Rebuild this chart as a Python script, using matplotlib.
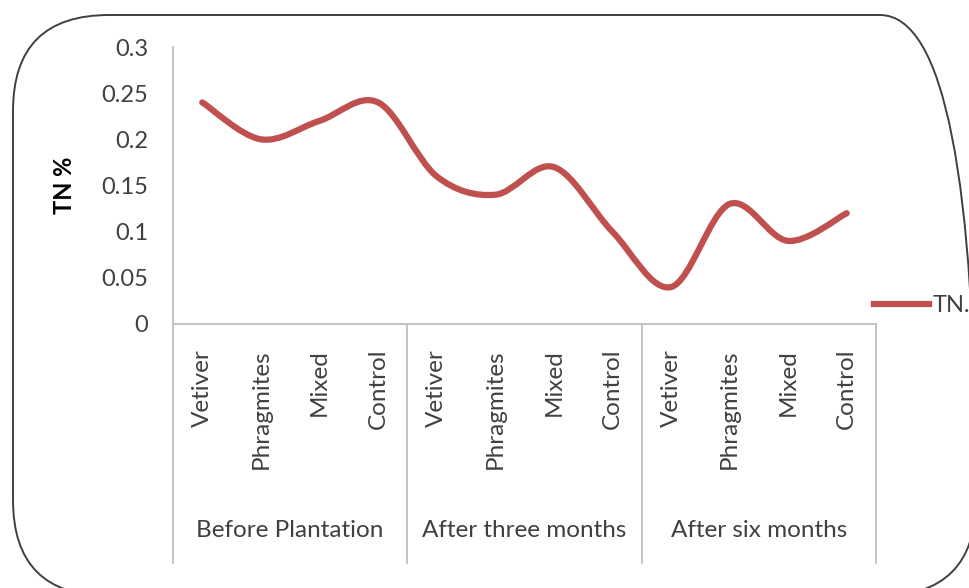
import matplotlib
matplotlib.use('Agg')
import matplotlib.pyplot as plt
from matplotlib.path import Path
from matplotlib.patches import PathPatch, FancyBboxPatch
from matplotlib.lines import Line2D
from matplotlib.transforms import IdentityTransform
import numpy as np

plt.rcParams['font.family'] = ['Lato', 'DejaVu Sans']

groups = ['Before Plantation', 'After three months', 'After six months']
plants = ['Vetiver', 'Phragmites', 'Mixed', 'Control']
tn = [0.24, 0.20, 0.22, 0.24,
      0.16, 0.14, 0.17, 0.10,
      0.04, 0.13, 0.09, 0.12]

RED = '#C0504D'
AXC = '#BFBFBF'
TXT = '#404040'

W, H = 969, 588
fig = plt.figure(figsize=(W / 100, H / 100), dpi=100)

# rounded chart border (pixel coords)
border = FancyBboxPatch((13, -8), 963, 581, boxstyle='round,pad=0,rounding_size=96',
                        transform=IdentityTransform(), fill=False,
                        edgecolor='#404040', linewidth=1.4)
fig.add_artist(border)

ax = fig.add_axes([173 / W, 1 - 324 / H, (876 - 173) / W, (324 - 47) / H])
n = len(tn)
x = np.arange(n) + 0.5
y = np.array(tn)

# Excel-style smoothed line (Catmull-Rom as cubic Bezier)
pts = np.column_stack([x, y])
ext = np.vstack([pts[0], pts, pts[-1]])
verts = [tuple(pts[0])]
codes = [Path.MOVETO]
for i in range(n - 1):
    p0, p1, p2, p3 = ext[i], ext[i + 1], ext[i + 2], ext[i + 3]
    c1 = p1 + (p2 - p0) / 6
    c2 = p2 - (p3 - p1) / 6
    verts += [tuple(c1), tuple(c2), tuple(p2)]
    codes += [Path.CURVE4] * 3
ax.add_patch(PathPatch(Path(verts, codes), fill=False, edgecolor=RED,
                       linewidth=4.5, capstyle='round', joinstyle='round'))

ax.set_xlim(0, n)
ax.set_ylim(0, 0.3)
ax.set_yticks(np.arange(0, 0.301, 0.05))
ax.set_yticklabels(['0', '0.05', '0.1', '0.15', '0.2', '0.25', '0.3'])
ax.tick_params(axis='y', length=0, pad=18, labelsize=17, labelcolor=TXT)

ax.set_xticks(x)
ax.set_xticklabels(plants * len(groups), rotation=90, va='top', ha='center')
ax.tick_params(axis='x', length=0, pad=18, labelsize=17.5, labelcolor=TXT)

for s in ['top', 'right']:
    ax.spines[s].set_visible(False)
for s in ['left', 'bottom']:
    ax.spines[s].set_color(AXC)
    ax.spines[s].set_linewidth(1.3)

fig.text(65 / W, 1 - 185 / H, 'TN %', rotation=90, ha='center', va='center',
         fontsize=17, fontweight='bold', color='black')

# group separators and group labels
trans = ax.get_xaxis_transform()
ybot = -(563 - 324) / (324 - 47)
for k in range(len(groups) + 1):
    ax.plot([k * 4, k * 4], [0, ybot], transform=trans, color=AXC,
            linewidth=1.3, clip_on=False)
for k, g in enumerate(groups):
    ax.text(k * 4 + 2, -(531 - 324) / (324 - 47), g, transform=trans,
            ha='center', va='center', fontsize=17.5, color=TXT)

# legend
handle = Line2D([], [], color=RED, linewidth=4.5)
fig.legend([handle], ['TN.'], loc='center left', bbox_to_anchor=(874 / W, 1 - 306 / H),
           frameon=False, fontsize=17, handlelength=2.35, handletextpad=0.15,
           labelcolor=TXT, borderpad=0, borderaxespad=0)

fig.savefig('out.png', dpi=100, facecolor='white')
